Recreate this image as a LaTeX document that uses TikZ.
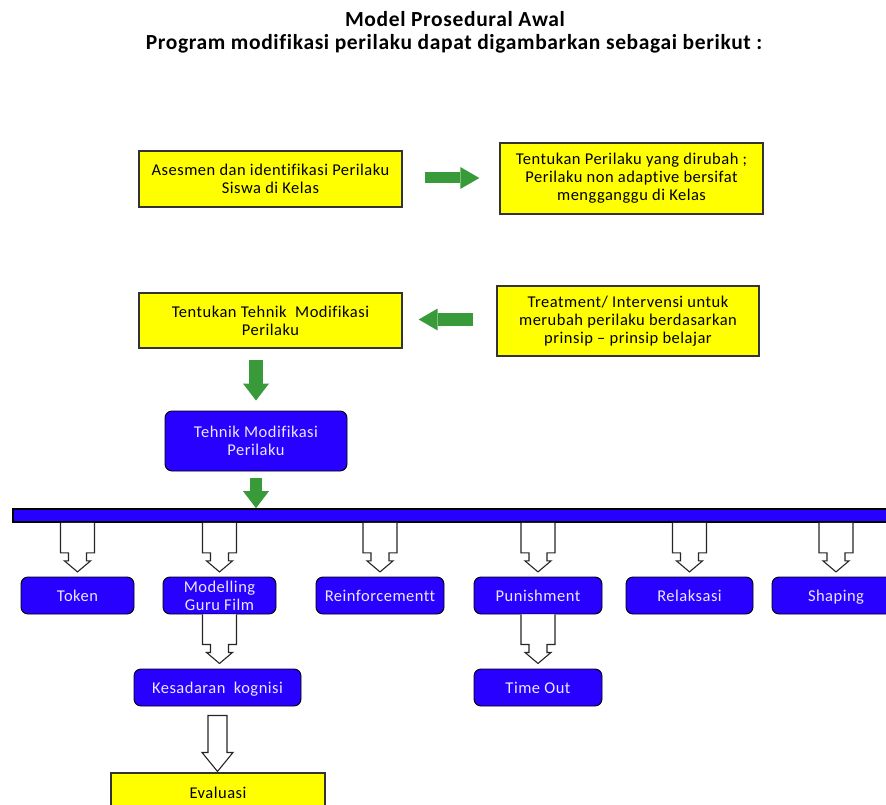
\documentclass[tikz,border=0pt]{standalone}
\usepackage{fontspec}
\setmainfont{Carlito}[LetterSpace=3.0,Ligatures=NoCommon]
\usetikzlibrary{arrows.meta}
\definecolor{cYellow}{RGB}{255,255,0}
\definecolor{cBlue}{RGB}{40,0,255}
\definecolor{cLav}{RGB}{232,232,255}
\definecolor{cGreen}{RGB}{56,154,56}
\tikzset{
  ybox/.style={draw=black!80, line width=1.4pt, fill=cYellow, inner sep=0pt, align=center, font=\fontsize{16.5}{18}\selectfont},
  bbox/.style={draw=black, line width=0.9pt, rounded corners=7pt, fill=cBlue, text=cLav, inner sep=0pt, align=center, font=\fontsize{16.5}{18}\selectfont},
  oneline/.style={text height=11.5pt, text depth=0pt},
  titletext/.style={inner sep=0pt, font=\fontsize{21.5}{25}\selectfont\bfseries},
  garr/.style={draw=cGreen, line width=#1, -{Triangle[length=19pt,width=22pt,line width=0pt,fill=cGreen]}},
  garrd/.style={draw=cGreen, line width=#1, -{Triangle[length=17pt,width=26pt,line width=0pt,fill=cGreen]}},
  hline/.style={draw=black!85, line width=1.1pt, fill=white},
  hollow/.pic={\filldraw[hline] (-17,0) -- (-17,30) -- (-9,30) -- (-9,38) -- (-13,38) -- (0,49) -- (13,38) -- (9,38) -- (9,30) -- (17,30) -- (17,0);},
  bighollow/.pic={\filldraw[hline] (-9.5,0) -- (-9.5,37) -- (-15.5,37) -- (0,56) -- (15.5,37) -- (9.5,37) -- (9.5,0) -- cycle;}
}
\begin{document}
\begin{tikzpicture}[x=1pt,y=-1pt]
\useasboundingbox (0,0) rectangle (886,805);
\clip (0,0) rectangle (886,805);
\fill[white] (0,0) rectangle (886,805);
% titles
\node[titletext] (t1) at (455,19) {Model Prosedural Awal};
\node[titletext] (t2) at (454,44) {Program modifikasi perilaku dapat digambarkan sebagai berikut :};
% yellow boxes
\node[ybox, minimum width=263pt, minimum height=56pt] (A) at (270.5,179) {Asesmen dan identifikasi Perilaku\\Siswa di Kelas};
\node[ybox, minimum width=263pt, minimum height=71pt] (B) at (631.5,178.5) {Tentukan Perilaku yang dirubah ;\\Perilaku non adaptive bersifat\\mengganggu di Kelas};
\node[ybox, minimum width=263pt, minimum height=55pt] (C) at (270.5,320.5) {Tentukan Tehnik~ Modifikasi\\Perilaku};
\node[ybox, minimum width=262pt, minimum height=70pt] (D) at (628,321) {Treatment/ Intervensi untuk\\merubah perilaku berdasarkan\\prinsip -- prinsip belajar};
% blue main
\node[bbox, minimum width=182pt, minimum height=60pt] (E) at (256,441) {Tehnik Modifikasi\\Perilaku};
% bar
\node[draw=black, line width=1.8pt, fill=cBlue, minimum width=877pt, minimum height=13pt, inner sep=0pt] (bar) at (451.5,515.5) {};
% branches
\node[bbox, oneline, minimum width=113pt, minimum height=37pt] (tok) at (77.5,595.5) {Token};
\node[bbox, minimum width=113pt, minimum height=37pt] (mod) at (219.5,595.5) {Modelling\\Guru Film};
\node[bbox, oneline, minimum width=128pt, minimum height=37pt] (rei) at (380,595.5) {Reinforcementt};
\node[bbox, oneline, minimum width=128pt, minimum height=37pt] (pun) at (538,595.5) {Punishment};
\node[bbox, oneline, minimum width=127pt, minimum height=37pt] (rel) at (689.5,595.5) {Relaksasi};
\node[bbox, oneline, minimum width=128pt, minimum height=37pt] (sha) at (836,595.5) {Shaping};
\node[bbox, oneline, minimum width=167pt, minimum height=37pt] (kes) at (217.5,687.5) {Kesadaran~ kognisi};
\node[bbox, oneline, minimum width=128pt, minimum height=37pt] (tim) at (538,687.5) {Time Out};
\node[ybox, oneline, minimum width=214pt, minimum height=40pt] (eva) at (218,793) {Evaluasi};
% green arrows
\draw[garr=11pt] ([xshift=22pt,yshift=1pt]A.east) -- ([xshift=-20pt,yshift=0.5pt]B.west);
\draw[garr=13pt] ([xshift=-23pt,yshift=1.5pt]D.west) -- ([xshift=16pt,yshift=1pt]C.east);
\draw[garrd=14pt] ([yshift=-11pt]C.south -| E.north) -- ([yshift=10pt]E.north);
\draw[garrd=12pt] ([yshift=-7pt]E.south) -- (bar.north -| E.south);
% hollow arrows
\pic at (bar.south -| tok.north) {hollow};
\pic at (bar.south -| mod.north) {hollow};
\pic at (bar.south -| rei.north) {hollow};
\pic at (bar.south -| pun.north) {hollow};
\pic at (bar.south -| rel.north) {hollow};
\pic at (bar.south -| sha.north) {hollow};
\pic at (mod.south) {hollow};
\pic at (pun.south) {hollow};
\pic at ([yshift=-9pt]kes.south) {bighollow};
\end{tikzpicture}
\end{document}
